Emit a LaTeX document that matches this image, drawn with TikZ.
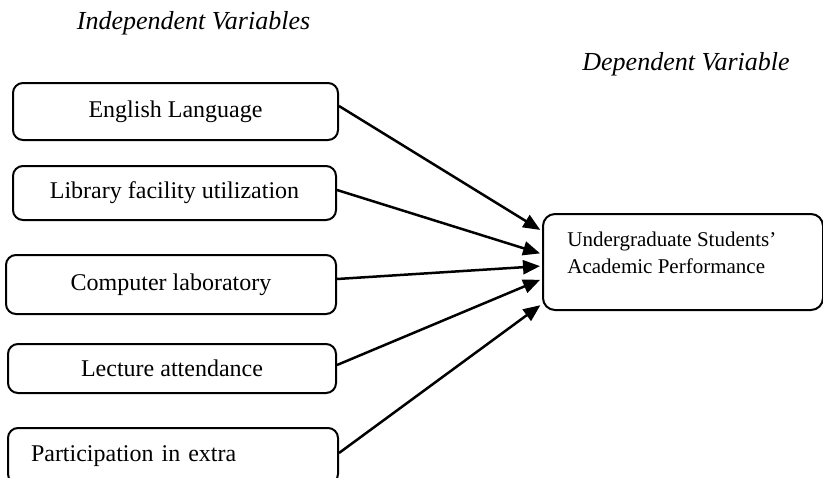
\documentclass[tikz,border=0pt]{standalone}
\usepackage{fontspec}
\setmainfont{Liberation Serif}
\usepackage{tikz}
\usetikzlibrary{arrows.meta}

\begin{document}
\begin{tikzpicture}[
  x=0.5pt, y=-0.5pt,
  var/.style={draw, line width=1pt, rounded corners=5pt, anchor=north west, inner sep=0pt, align=center, font=\fontsize{12}{14}\selectfont},
  head/.style={anchor=base, font=\fontsize{13}{15}\selectfont\itshape},
  link/.style={->, line width=1.25pt, shorten >=1pt},
  >={Triangle[length=8.5pt, width=7pt]}
]
\useasboundingbox (0,0) rectangle (823,477);
\clip (0,0) rectangle (823,477);
\node[head] (indep) at (193.5,29) {Independent Variables};
\node[head] (dep) at (686,70) {Dependent Variable};

\node[var, minimum width=162.5pt, minimum height=28.5pt] (eng) at (12,82) {English Language};
\node[var, minimum width=161.5pt, minimum height=27pt] (lib) at (12,165) {Library facility utilization};
\node[var, minimum width=165pt, minimum height=29.5pt] (comp) at (5,254) {Computer laboratory};
\node[var, minimum width=164pt, minimum height=24.5pt] (lect) at (7,343) {Lecture attendance};
\node[var, minimum width=165pt, minimum height=28pt, text width=142pt, align=left, inner xsep=11.5pt] (extra) at (7,427) {Participation in extra};

\node[var, rounded corners=6pt, minimum width=140pt, minimum height=48pt] (perf) at (542,213) {};
\node[anchor=north west, inner sep=0pt, align=left, font=\fontsize{10.5}{13.5}\selectfont] (perftxt) at ([xshift=12.5pt, yshift=-9.5pt]perf.north west) {Undergraduate Students’\\Academic Performance};

\draw[link] ([yshift=2.75pt]eng.east) -- ([yshift=15.5pt]perf.west);
\draw[link] ([yshift=1.5pt]lib.east) -- ([yshift=4pt]perf.west);
\draw[link] ([yshift=2.75pt]comp.east) -- ([yshift=-2pt]perf.west);
\draw[link] ([yshift=1.75pt]lect.east) -- ([yshift=-8.5pt]perf.west);
\draw[link] ([yshift=1.5pt]extra.east) -- ([yshift=-21pt]perf.west);
\end{tikzpicture}
\end{document}
